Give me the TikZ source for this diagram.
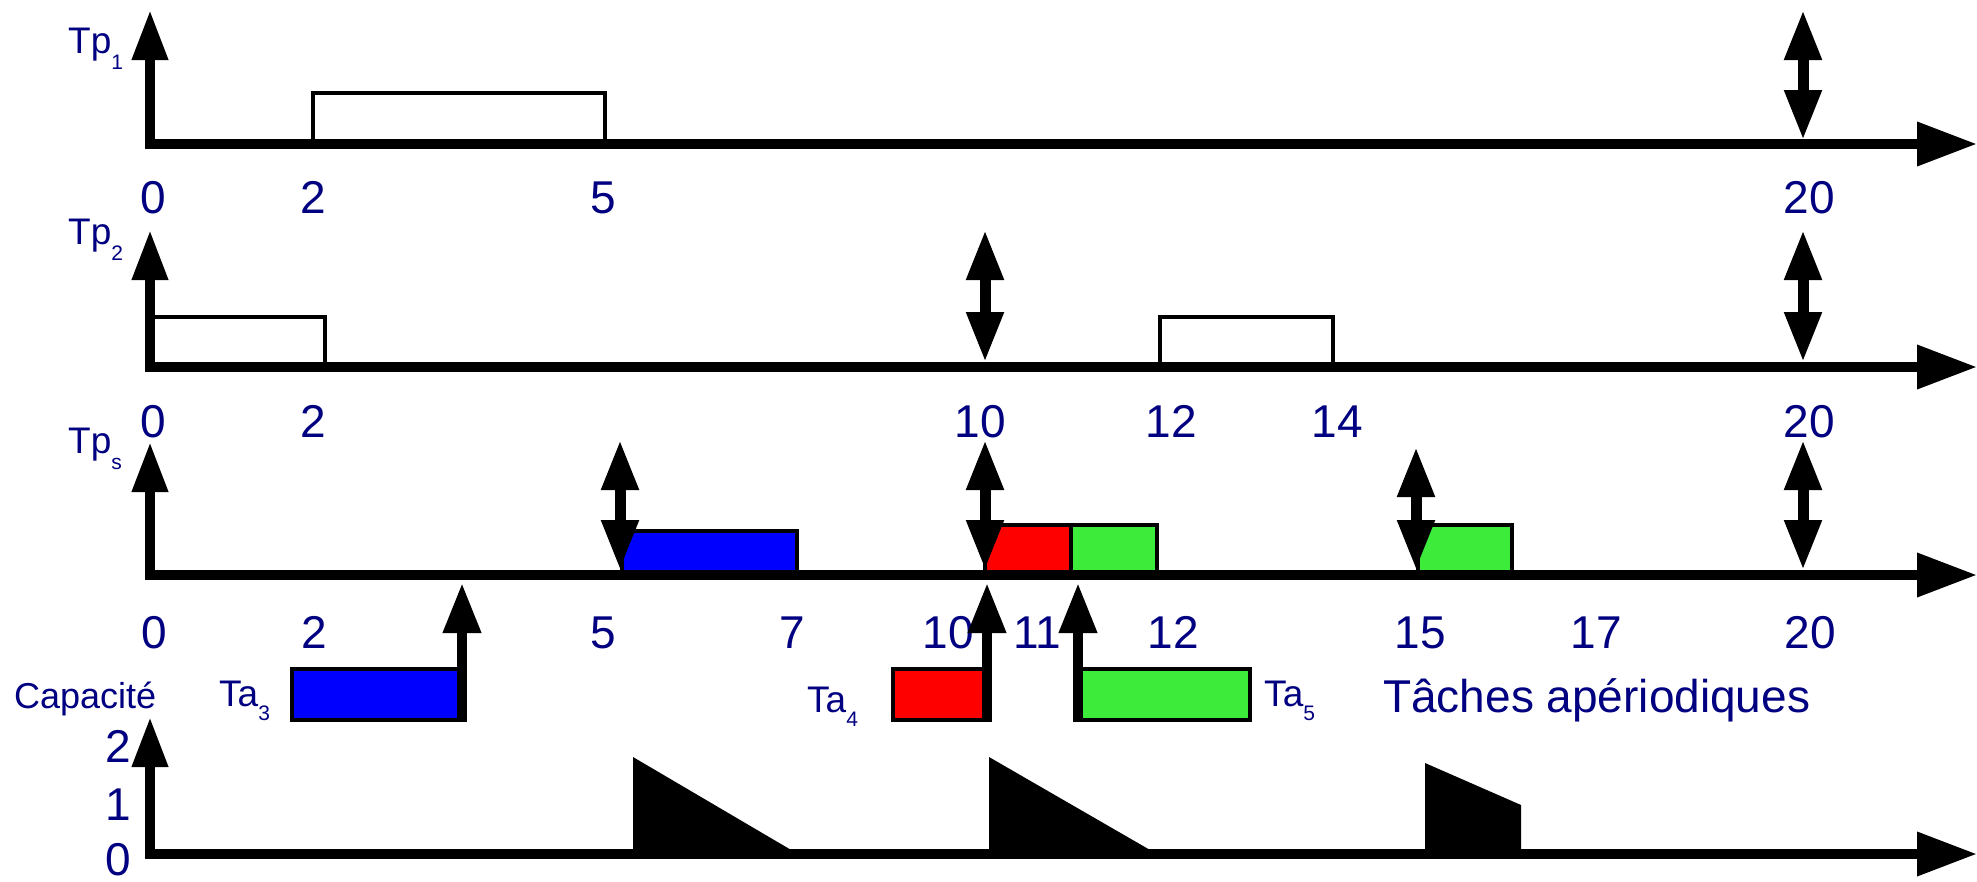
\documentclass[tikz,border=0pt]{standalone}
\usepackage{fontspec}
\setmainfont{Liberation Sans}
\usetikzlibrary{arrows.meta}
\definecolor{txt}{RGB}{0,0,128}
\definecolor{jblue}{RGB}{0,0,255}
\definecolor{jred}{RGB}{255,0,0}
\definecolor{jgreen}{RGB}{61,235,58}
\newcommand{\sbx}[1]{\raisebox{-16pt}{\fontsize{21}{21}\selectfont #1}}
\newcommand{\sbxa}[1]{\raisebox{-14pt}{\fontsize{21}{21}\selectfont #1}}
\begin{document}
\begin{tikzpicture}[x=1pt,y=-1pt,
  haxisarrow/.style={line width=10pt,-{Triangle[length=60pt,width=42pt]}},
  vaxisarrow/.style={line width=10pt,-{Triangle[length=50pt,width=34pt]}},
  dblarrow/.style={line width=11pt,{Triangle[length=50pt,width=35pt]}-{Triangle[length=50pt,width=35pt]}},
  reqarrow/.style={line width=10pt,-{Triangle[length=50pt,width=36pt]}},
  jobbox/.style={draw=black,line width=3.5pt},
  colbox/.style={draw=black,line width=4pt},
  biglbl/.style={text=txt,font=\fontsize{46}{50}\selectfont,inner sep=0pt,anchor=base},
  smalllbl/.style={text=txt,font=\fontsize{37}{40}\selectfont,inner sep=0pt,anchor=base west},
]
\useasboundingbox (0,0) rectangle (1977,881);

% ---------- Row 1 : Tp1 ----------
\draw[jobbox] (313,144) rectangle (605,93);
\draw[haxisarrow] (145,144) -- (1977,144);
\draw[vaxisarrow] (150,149) -- (150,10);
\draw[dblarrow] (1803,140) -- (1803,10);
\node[smalllbl] (tp1) at (68,53) {Tp\sbx{1}};
\node[biglbl] (r1l0) at (153,213) {0};
\node[biglbl] (r1l2) at (313,213) {2};
\node[biglbl] (r1l5) at (603,213) {5};
\node[biglbl] (r1l20) at (1809,213) {20};

% ---------- Row 2 : Tp2 ----------
\draw[jobbox] (152,367) rectangle (325,317);
\draw[jobbox] (1160,367) rectangle (1333,317);
\draw[haxisarrow] (145,367) -- (1977,367);
\draw[vaxisarrow] (150,372) -- (150,230);
\draw[dblarrow] (985,362) -- (985,230);
\draw[dblarrow] (1803,362) -- (1803,230);
\node[smalllbl] (tp2) at (68,244) {Tp\sbx{2}};
\node[biglbl] (r2l0) at (153,437) {0};
\node[biglbl] (r2l2) at (313,437) {2};
\node[biglbl] (r2l10) at (980,437) {10};
\node[biglbl] (r2l12) at (1171,437) {12};
\node[biglbl] (r2l14) at (1337,437) {14};
\node[biglbl] (r2l20) at (1809,437) {20};

% ---------- Row 3 : Tps ----------
\draw[colbox,fill=jblue] (622,575) rectangle (797,531);
\draw[colbox,fill=jred] (985,575) rectangle (1071,525);
\draw[colbox,fill=jgreen] (1071,575) rectangle (1157,525);
\draw[colbox,fill=jgreen] (1418,575) rectangle (1512,525);
\draw[haxisarrow] (145,575) -- (1977,575);
\draw[vaxisarrow] (150,580) -- (150,442);
\draw[dblarrow] (620,570) -- (620,440);
\draw[dblarrow] (985,570) -- (985,440);
\draw[dblarrow] (1416,570) -- (1416,447);
\draw[dblarrow] (1803,570) -- (1803,440);
\node[smalllbl] (tps) at (68,453) {Tp\sbx{s}};
\node[biglbl] (r3l0) at (154,648) {0};
\node[biglbl] (r3l2) at (314,648) {2};
\node[biglbl] (r3l5) at (603,648) {5};
\node[biglbl] (r3l7) at (792,648) {7};
\node[biglbl] (r3l10) at (948,648) {10};
\node[biglbl] (r3l11) at (1037,648) {11};
\node[biglbl] (r3l12) at (1173,648) {12};
\node[biglbl] (r3l15) at (1420,648) {15};
\node[biglbl] (r3l17) at (1596,648) {17};
\node[biglbl] (r3l20) at (1810,648) {20};

% ---------- Aperiodic tasks ----------
\draw[colbox,fill=jblue] (292,720) rectangle (462,669);
\draw[colbox,fill=jred] (893,720) rectangle (987,669);
\draw[colbox,fill=jgreen] (1078,720) rectangle (1250,669);
\draw[reqarrow] (462,722) -- (462,583);
\draw[reqarrow] (987,722) -- (987,583);
\draw[reqarrow] (1078,722) -- (1078,583);
\node[smalllbl] (ta3) at (219,706) {Ta\sbxa{3}};
\node[smalllbl] (ta4) at (807,712) {Ta\sbxa{4}};
\node[smalllbl] (ta5) at (1264,706) {Ta\sbxa{5}};
\node[text=txt,font=\fontsize{46}{50}\selectfont,inner sep=0pt,anchor=base west] (tach) at (1383,712) {Tâches apériodiques};

% ---------- Capacity ----------
\node[text=txt,font=\fontsize{36}{40}\selectfont,inner sep=0pt,anchor=base west] (cap) at (14,708) {Capacité};
\fill (633,854) -- (633,757) -- (798,854) -- cycle;
\fill (989,854) -- (989,757) -- (1157,854) -- cycle;
\fill (1425,854) -- (1425,763) -- (1521,805) -- (1521,854) -- cycle;
\draw[haxisarrow] (145,854) -- (1977,854);
\draw[vaxisarrow] (150,859) -- (150,717);
\node[biglbl] (c2) at (118,762) {2};
\node[biglbl] (c1) at (118,820) {1};
\node[biglbl] (c0) at (118,875) {0};
\end{tikzpicture}
\end{document}
